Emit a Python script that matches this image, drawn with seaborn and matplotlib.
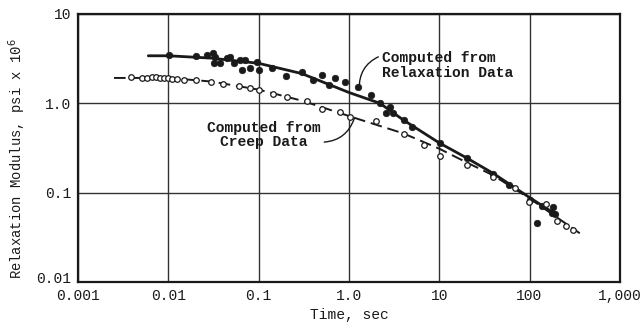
import matplotlib
matplotlib.use("Agg")
import matplotlib.pyplot as plt
import matplotlib.transforms as mtransforms
import seaborn as sns

# Relaxation data (filled dots)
relax_t = [0.0102, 0.0203, 0.0269, 0.0313, 0.0329, 0.032, 0.0374, 0.0447, 0.048, 0.0535,
           0.0622, 0.0655, 0.0706, 0.080, 0.096, 0.101, 0.141, 0.201, 0.303, 0.40,
           0.50, 0.60, 0.70, 0.91, 1.26, 1.76, 2.21, 2.58, 2.85, 3.08,
           4.07, 5.0, 10.2, 20.3, 39.4, 59, 101, 121, 137, 182, 177, 191]
relax_E = [3.46, 3.37, 3.46, 3.65, 3.29, 2.81, 2.81, 3.21, 3.29, 2.81,
           3.04, 2.35, 3.04, 2.47, 2.89, 2.35, 2.47, 2.01, 2.23, 1.81,
           2.07, 1.59, 1.91, 1.72, 1.51, 1.23, 1.0, 0.773, 0.90, 0.773,
           0.644, 0.537, 0.356, 0.241, 0.163, 0.123, 0.083, 0.046, 0.0714, 0.0696, 0.0596, 0.058]

# Creep data (open circles)
creep_t = [0.0039, 0.0051, 0.0058, 0.0066, 0.0073, 0.0081, 0.0090, 0.0100, 0.0109, 0.0124,
           0.0149, 0.0203, 0.0295, 0.040, 0.061, 0.080, 0.102, 0.146, 0.205, 0.347,
           0.50, 0.80, 1.02, 2.0, 4.07, 6.8, 10.2, 20.1, 39, 69,
           99.5, 152, 200, 254, 305]
creep_E = [1.95, 1.93, 1.93, 1.95, 1.95, 1.93, 1.93, 1.91, 1.89, 1.87,
           1.84, 1.81, 1.75, 1.65, 1.55, 1.47, 1.40, 1.28, 1.18, 1.07,
           0.87, 0.80, 0.70, 0.63, 0.449, 0.344, 0.26, 0.206, 0.149, 0.113,
           0.078, 0.0746, 0.0484, 0.0425, 0.038]

# Fitted curves
relax_curve_t = [0.006, 0.01, 0.03, 0.1, 0.3, 1.0, 2.2, 4.0, 10, 20, 40, 100, 190]
relax_curve_E = [3.4, 3.4, 3.2, 2.8, 2.15, 1.32, 1.0, 0.65, 0.36, 0.245, 0.163, 0.088, 0.058]
creep_curve_t = [0.0025, 0.01, 0.03, 0.1, 0.3, 1.0, 1.3, 4.0, 10, 20, 40, 100, 360]
creep_curve_E = [1.92, 1.92, 1.75, 1.42, 1.07, 0.72, 0.66, 0.46, 0.31, 0.218, 0.155, 0.086, 0.035]

x_ticks = [0.001, 0.01, 0.1, 1.0, 10, 100, 1000]
x_labels = ["0.001", "0.01", "0.1", "1.0", "10", "100", "1,000"]
y_ticks = [0.01, 0.1, 1.0, 10]
y_labels = ["0.01", "0.1", "1.0", "10"]

sns.set_theme(style="white")
plt.rcParams['font.family'] = ['Liberation Mono', 'DejaVu Sans Mono', 'DejaVu Sans']

fig = plt.figure(figsize=(6.42, 3.24), dpi=100)
ax = fig.add_axes([0.1215, 0.13, 0.844, 0.827])

ink = "#1a1a1a"
sns.lineplot(x=relax_curve_t, y=relax_curve_E, ax=ax, color=ink, lw=2.0, sort=False)
sns.lineplot(x=creep_curve_t, y=creep_curve_E, ax=ax, color=ink, lw=1.4, sort=False,
             linestyle=(0, (6, 3)))
sns.scatterplot(x=relax_t, y=relax_E, ax=ax, color=ink, s=22, edgecolor=ink, linewidth=0.5, zorder=3)
sns.scatterplot(x=creep_t, y=creep_E, ax=ax, facecolor="white", edgecolor=ink, s=16,
                linewidth=0.9, zorder=3)

ax.set_xscale("log")
ax.set_yscale("log")
ax.set_xlim(0.001, 1000)
ax.set_ylim(0.01, 10)
ax.set_xticks(x_ticks)
ax.set_xticklabels(x_labels)
ax.set_yticks(y_ticks)
ax.set_yticklabels(y_labels)
ax.minorticks_off()
ax.tick_params(length=0, labelsize=10.5, colors=ink)
ax.tick_params(axis="x", pad=5)
ax.tick_params(axis="y", pad=5)
ax.grid(True, which="major", color="#333333", lw=1.0)
for s in ax.spines.values():
    s.set_color(ink)
    s.set_linewidth(1.6)

# nudge the lowest y tick label up slightly as in the reference
lbl = ax.get_yticklabels()[0]
lbl.set_transform(lbl.get_transform() + mtransforms.ScaledTranslation(0, 4 / 100, fig.dpi_scale_trans))

ax.set_xlabel("Time, sec", fontsize=10.5, color=ink, labelpad=4)
ax.set_ylabel("Relaxation Modulus, psi x 10$^6$", fontsize=10, color=ink)
ax.yaxis.set_label_coords(-0.093, 0.46)

ax.annotate("Computed from\nRelaxation Data", xy=(1.3, 1.45), xytext=(2.3, 2.65),
            fontsize=10.5, fontweight="bold", color=ink, ha="left", va="center",
            linespacing=1.05,
            arrowprops=dict(arrowstyle="-", color=ink, lw=1.0,
                            connectionstyle="arc3,rad=0.35", shrinkA=0, shrinkB=0,
                            relpos=(0.0, 0.85)))
ax.annotate("Computed from\nCreep Data", xy=(1.15, 0.68), xytext=(0.115, 0.44),
            fontsize=10.5, fontweight="bold", color=ink, ha="center", va="center",
            linespacing=1.05,
            arrowprops=dict(arrowstyle="-", color=ink, lw=1.0,
                            connectionstyle="arc3,rad=0.35", shrinkA=0, shrinkB=0,
                            relpos=(1.0, 0.25)))

fig.savefig("out.png", dpi=100)
